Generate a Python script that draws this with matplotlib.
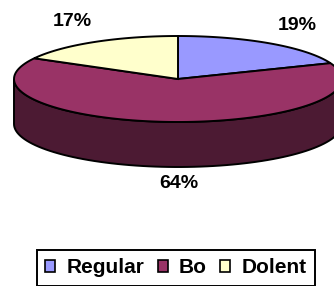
import numpy as np
import matplotlib.pyplot as plt
from matplotlib.patches import Patch

categories = ['Regular', 'Bo', 'Dolent']
values = [19, 64, 17]
labels = ['19%', '64%', '17%']
colors = ['#9999FF', '#993366', '#FFFFCC']
side_colors = ['#4D4D80', '#4C1A33', '#80806A']

plt.rcParams['font.family'] = ['Liberation Sans', 'DejaVu Sans']

fig = plt.figure(figsize=(3.34, 2.86), dpi=100)
ax = fig.add_axes([0, 0, 1, 1])
ax.set_xlim(0, 334)
ax.set_ylim(286, 0)
ax.axis('off')

cx, cy, a, b, depth = 178, 79, 164, 43, 45


def pt(t, dy=0):
    t = np.radians(t)
    return cx + a * np.cos(t), cy - b * np.sin(t) + dy


# slices go clockwise from 12 o'clock
fracs = np.array(values) / sum(values)
starts = 90 - np.concatenate([[0], np.cumsum(fracs)[:-1]]) * 360
ends = starts - fracs * 360

# side walls (only the front half is visible)
for s, e, sc in zip(starts, ends, side_colors):
    lo, hi = e, s
    for shift in (0, 360, -360):
        l, h = max(lo + shift, 180), min(hi + shift, 360)
        if h > l:
            t = np.linspace(l, h, 80)
            x, y = pt(t)
            x2, y2 = pt(t[::-1], depth)
            ax.fill(np.concatenate([x, x2]), np.concatenate([y, y2]),
                    facecolor=sc, edgecolor='black', lw=1.4, zorder=1)

# top faces
for s, e, c in zip(starts, ends, colors):
    t = np.linspace(s, e, 120)
    x, y = pt(t)
    ax.fill(np.concatenate([[cx], x]), np.concatenate([[cy], y]),
            facecolor=c, edgecolor='black', lw=1.4, zorder=2)

label_pos = [(297, 25), (179, 183), (72, 21)]
for (lx, ly), lab in zip(label_pos, labels):
    ax.text(lx, ly, lab, ha='center', va='center', fontsize=14, fontweight='bold')

handles = [Patch(facecolor=c, edgecolor='black', lw=1.2) for c in colors]
leg = fig.legend(handles, categories, loc='upper left', ncol=3,
                 bbox_to_anchor=(37 / 334, 1 - 250 / 286),
                 prop={'weight': 'bold', 'size': 15},
                 handlelength=0.48, handleheight=0.48, handletextpad=0.55,
                 columnspacing=0.62, borderpad=0.4, borderaxespad=0,
                 fancybox=False, framealpha=1)
leg.get_frame().set_edgecolor('black')
leg.get_frame().set_linewidth(1.4)

fig.savefig('out.png', dpi=100)
